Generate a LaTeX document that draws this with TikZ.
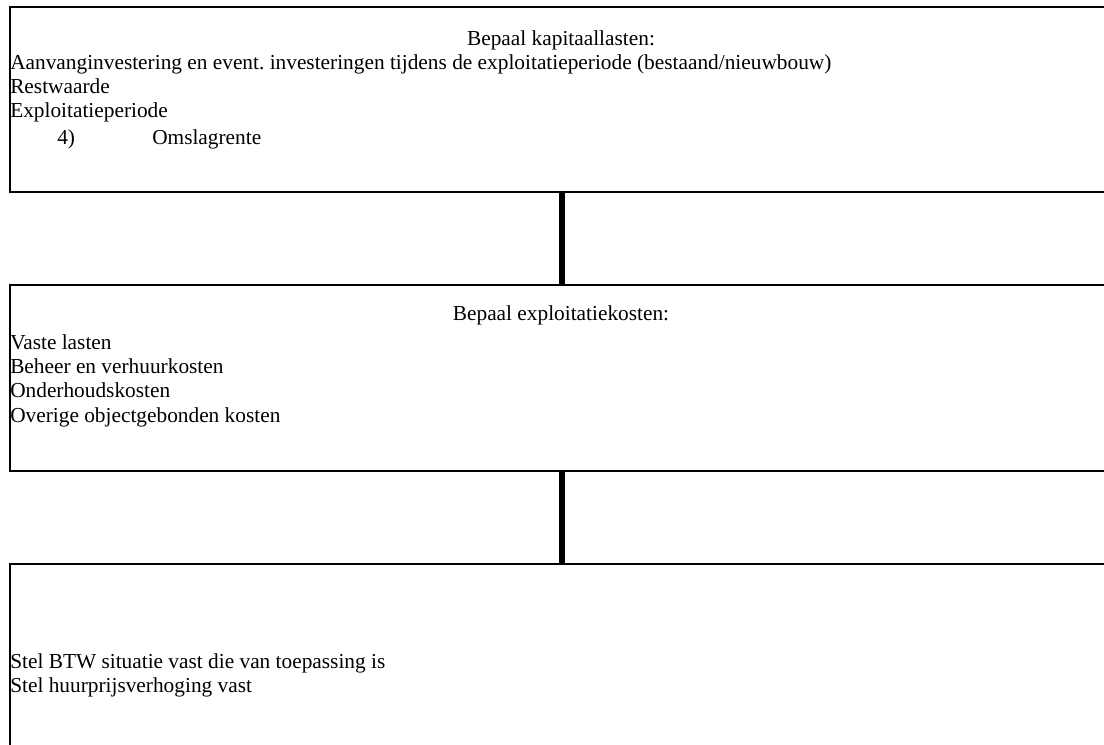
\documentclass[tikz,border=0pt]{standalone}
\usepackage{fontspec}
\setmainfont{Liberation Serif}
\frenchspacing
\begin{document}
\begin{tikzpicture}[x=0.75pt,y=-0.75pt,
  box/.style={draw=black, line width=1.5pt, fill=none, inner sep=0pt, anchor=north west, minimum width=828pt},
  conn/.style={line width=4.5pt, black},
  txt/.style={anchor=base west, inner sep=0pt, font=\fontsize{16}{18.5}\selectfont},
  ctxt/.style={anchor=base, inner sep=0pt, font=\fontsize{16}{18.5}\selectfont}]
\useasboundingbox (0,0) rectangle (1104,745);
\clip (0,0) rectangle (1104,745);
\node[box, minimum height=138.75pt] (b1) at (9,6) {};
\node[box, minimum height=139.5pt] (b2) at (9,284) {};
\node[box, minimum height=162.75pt] (b3) at (9,563) {};
\draw[conn] (b1.south) -- (b2.north);
\draw[conn] (b2.south) -- (b3.north);
% box 1
\node[ctxt] (t1) at (561,46) {Bepaal kapitaallasten:};
\node[txt] (t2) at (10,70) {Aanvanginvestering en event. investeringen tijdens de exploitatieperiode (bestaand/nieuwbouw)};
\node[txt] (t3) at (10,94) {Restwaarde};
\node[txt] (t4) at (10,118) {Exploitatieperiode};
\node[txt] (t5) at (57,145) {4)};
\node[txt] (t6) at (152,145) {Omslagrente};
% box 2
\node[ctxt] (u1) at (561,321) {Bepaal exploitatiekosten:};
\node[txt] (u2) at (10,350) {Vaste lasten};
\node[txt] (u3) at (10,374) {Beheer en verhuurkosten};
\node[txt] (u4) at (10,398) {Onderhoudskosten};
\node[txt] (u5) at (10,422) {Overige objectgebonden kosten};
% box 3
\node[txt] (v1) at (10,668) {Stel BTW situatie vast die van toepassing is};
\node[txt] (v2) at (10,692) {Stel huurprijsverhoging vast};
\end{tikzpicture}
\end{document}
